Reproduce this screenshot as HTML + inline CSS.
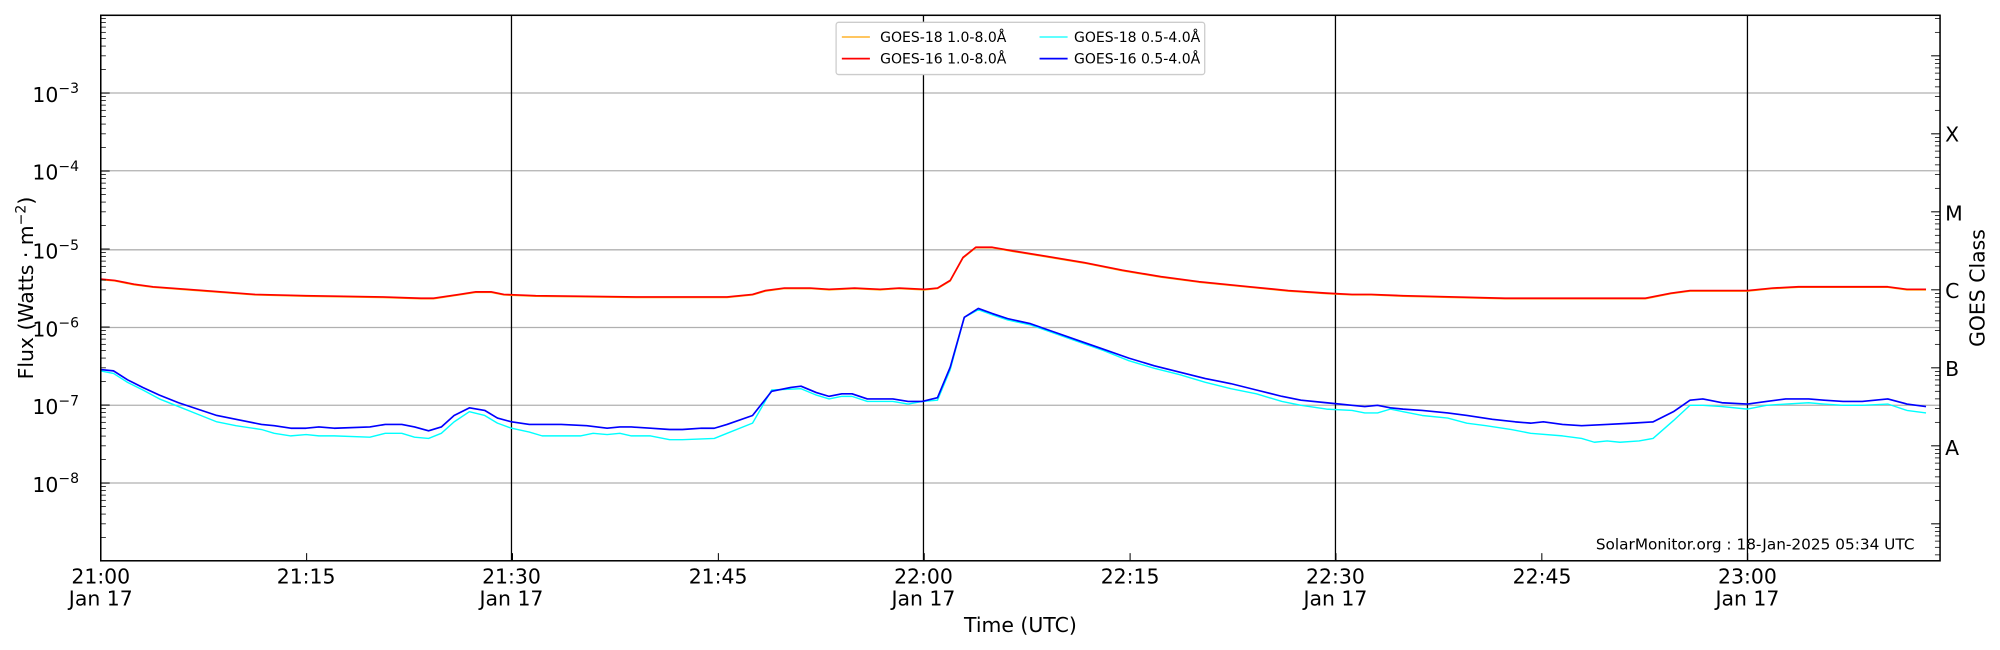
<!DOCTYPE html>
<html><head><meta charset="utf-8"><style>
html,body{margin:0;padding:0;background:#fff;}
svg{display:block;}
text{font-family:"DejaVu Sans","Liberation Sans",sans-serif;fill:#000;}
</style></head><body>
<svg id="s" width="2000" height="650" viewBox="0 0 1568 510" preserveAspectRatio="none" xmlns="http://www.w3.org/2000/svg">
<rect x="0" y="0" width="1568" height="510" fill="#fff"/>
<g id="grid"></g>
<g id="series"></g>
<g id="ticks"></g>
<rect x="79" y="12" width="1442" height="428" fill="none" stroke="#000" stroke-width="1.2"/>
<g font-size="16">
<text x="62" y="80" text-anchor="end">10<tspan dy="-7" font-size="11">−3</tspan></text>
<text x="62" y="141" text-anchor="end">10<tspan dy="-7" font-size="11">−4</tspan></text>
<text x="62" y="203" text-anchor="end">10<tspan dy="-7" font-size="11">−5</tspan></text>
<text x="62" y="264" text-anchor="end">10<tspan dy="-7" font-size="11">−6</tspan></text>
<text x="62" y="325" text-anchor="end">10<tspan dy="-7" font-size="11">−7</tspan></text>
<text x="62" y="386" text-anchor="end">10<tspan dy="-7" font-size="11">−8</tspan></text>
<text x="1525" y="111">X</text>
<text x="1525" y="173">M</text>
<text x="1525" y="234">C</text>
<text x="1525" y="295">B</text>
<text x="1525" y="357">A</text>
<text x="79" y="458" text-anchor="middle">21:00</text><text x="79" y="475" text-anchor="middle">Jan 17</text>
<text x="240" y="458" text-anchor="middle">21:15</text>
<text x="401" y="458" text-anchor="middle">21:30</text><text x="401" y="475" text-anchor="middle">Jan 17</text>
<text x="563" y="458" text-anchor="middle">21:45</text>
<text x="724" y="458" text-anchor="middle">22:00</text><text x="724" y="475" text-anchor="middle">Jan 17</text>
<text x="886" y="458" text-anchor="middle">22:15</text>
<text x="1047" y="458" text-anchor="middle">22:30</text><text x="1047" y="475" text-anchor="middle">Jan 17</text>
<text x="1209" y="458" text-anchor="middle">22:45</text>
<text x="1370" y="458" text-anchor="middle">23:00</text><text x="1370" y="475" text-anchor="middle">Jan 17</text>
<text x="800" y="496" text-anchor="middle">Time (UTC)</text>
<text transform="translate(26,226) rotate(-90)" text-anchor="middle">Flux (Watts · m<tspan dy="-6" font-size="11">−2</tspan><tspan dy="6">)</tspan></text>
<text transform="translate(1556,226) rotate(-90)" text-anchor="middle">GOES Class</text>
</g>
<text x="1501" y="431" font-size="12" text-anchor="end">SolarMonitor.org : 18-Jan-2025 05:34 UTC</text>
<g>
<rect x="655.5" y="17.5" width="289" height="41" fill="#fff" stroke="#ccc" rx="2"/>
<line x1="660" y1="29" x2="682" y2="29" stroke="#ffa500" stroke-width="1"/>
<text x="690" y="33" font-size="11">GOES-18 1.0-8.0Å</text>
<line x1="660" y1="46" x2="682" y2="46" stroke="#ff0000" stroke-width="1.4"/>
<text x="690" y="50" font-size="11">GOES-16 1.0-8.0Å</text>
<line x1="815" y1="29" x2="837" y2="29" stroke="#00ffff" stroke-width="1"/>
<text x="842" y="33" font-size="11">GOES-18 0.5-4.0Å</text>
<line x1="815" y1="46" x2="837" y2="46" stroke="#0000ff" stroke-width="1.4"/>
<text x="842" y="50" font-size="11">GOES-16 0.5-4.0Å</text>
</g>
</svg>
<script>
var NS="http://www.w3.org/2000/svg";
function el(p,t,a){var e=document.createElementNS(NS,t);for(var k in a)e.setAttribute(k,a[k]);p.appendChild(e);return e;}
var grid=document.getElementById("grid"),ticks=document.getElementById("ticks"),ser=document.getElementById("series");
var D=61.2;
[73,134,196,257,318,379].forEach(function(y){el(grid,"line",{x1:79,x2:1521,y1:y,y2:y,stroke:"#b0b0b0","stroke-width":1});});
[401,724,1047,1370].forEach(function(x){el(grid,"line",{x1:x,x2:x,y1:12,y2:440,stroke:"#000","stroke-width":1});});
// left ticks
for(var d=-9;d<=-2;d++){var base=379-(d+8)*D;
 if(d>-9&&d<-2) el(ticks,"line",{x1:79,x2:86,y1:base,y2:base,stroke:"#000","stroke-width":0.8});
 for(var m=2;m<=9;m++){var y=base-Math.log10(m)*D;if(y>12&&y<440)el(ticks,"line",{x1:79,x2:83,y1:y,y2:y,stroke:"#000","stroke-width":0.6});}}
// right ticks
for(var k=-2;k<=6;k++){var base=105+k*D;
 if(base>12&&base<440) el(ticks,"line",{x1:1514,x2:1521,y1:base,y2:base,stroke:"#000","stroke-width":0.8});
 for(var m=2;m<=9;m++){var y=base-Math.log10(m)*D;if(y>12&&y<440)el(ticks,"line",{x1:1517,x2:1521,y1:y,y2:y,stroke:"#000","stroke-width":0.6});}}
// x ticks
for(var i=0;i<=8;i++){var x=79+i*161.4;el(ticks,"line",{x1:x,x2:x,y1:440,y2:434,stroke:"#000","stroke-width":0.8});}
function pl(s,c,w){el(ser,"polyline",{points:s,fill:"none",stroke:c,"stroke-width":w,"stroke-linejoin":"round"});}
var red="79,219 90,220 105,223 120,225 160,228 200,231 240,232 300,233 330,234 340,234 360,231 373,229 385,229 395,231 420,232 500,233 570,233 590,231 600,228 615,226 635,226 650,227 670,226 690,227 705,226 725,227 735,226 745,220 755,202 765,194 778,194 795,197 820,201 850,206 880,212 910,217 940,221 980,225 1010,228 1040,230 1060,231 1075,231 1100,232 1140,233 1180,234 1230,234 1290,234 1295,233 1310,230 1325,228 1370,228 1390,226 1410,225 1440,225 1470,225 1480,225 1495,227 1510,227";
var yel=red.split(" ").map(function(p){var a=p.split(",");return a[0]+","+(+a[1]+0.5);}).join(" ");
var blue="79,290 89,291 100,298 112,304 125,310 140,316 155,321 170,326 185,329 205,333 215,334 228,336 240,336 250,335 262,336 290,335 302,333 315,333 325,335 336,338 346,335 356,326 368,320 380,322 390,328 401,331 415,333 440,333 460,334 476,336 486,335 495,335 510,336 525,337 535,337 550,336 560,336 570,333 590,326 605,307 620,304 628,303 640,308 650,311 660,309 668,309 680,313 700,313 712,315 723,315 735,312 745,288 756,249 767,242 778,246 790,250 808,254 825,260 845,267 865,274 885,281 905,287 925,292 945,297 965,301 985,306 1005,311 1020,314 1040,316 1060,318 1070,319 1080,318 1090,320 1100,321 1115,322 1135,324 1150,326 1170,329 1188,331 1200,332 1210,331 1225,333 1240,334 1260,333 1280,332 1296,331 1312,323 1325,314 1335,313 1350,316 1370,317 1385,315 1400,313 1418,313 1430,314 1445,315 1460,315 1480,313 1495,317 1510,319";
var cyan="79,291 89,293 100,300 112,306 125,313 140,319 155,325 170,331 185,334 205,337 215,340 228,342 240,341 250,342 262,342 290,343 302,340 315,340 325,343 336,344 346,340 356,331 368,323 380,326 390,332 401,336 415,339 425,342 440,342 455,342 465,340 476,341 486,340 495,342 510,342 525,345 535,345 560,344 570,340 590,332 605,306 628,305 640,310 650,313 660,311 668,311 680,315 700,315 712,317 723,315 735,314 745,290 756,249 767,243 778,247 790,251 808,255 825,261 845,268 865,275 885,283 905,289 925,294 945,300 965,305 985,309 1005,315 1020,318 1040,321 1060,322 1070,324 1080,324 1090,321 1100,323 1115,326 1135,328 1150,332 1165,334 1185,337 1200,340 1225,342 1240,344 1250,347 1260,346 1270,347 1285,346 1296,344 1312,330 1325,318 1335,318 1350,319 1370,321 1385,318 1400,317 1418,316 1430,317 1445,318 1460,318 1480,317 1495,322 1510,324";
pl(yel,"#ffa500",1);pl(red,"#ff0000",1.3);pl(cyan,"#00ffff",1.1);pl(blue,"#0000ff",1.3);
</script>
</body></html>
